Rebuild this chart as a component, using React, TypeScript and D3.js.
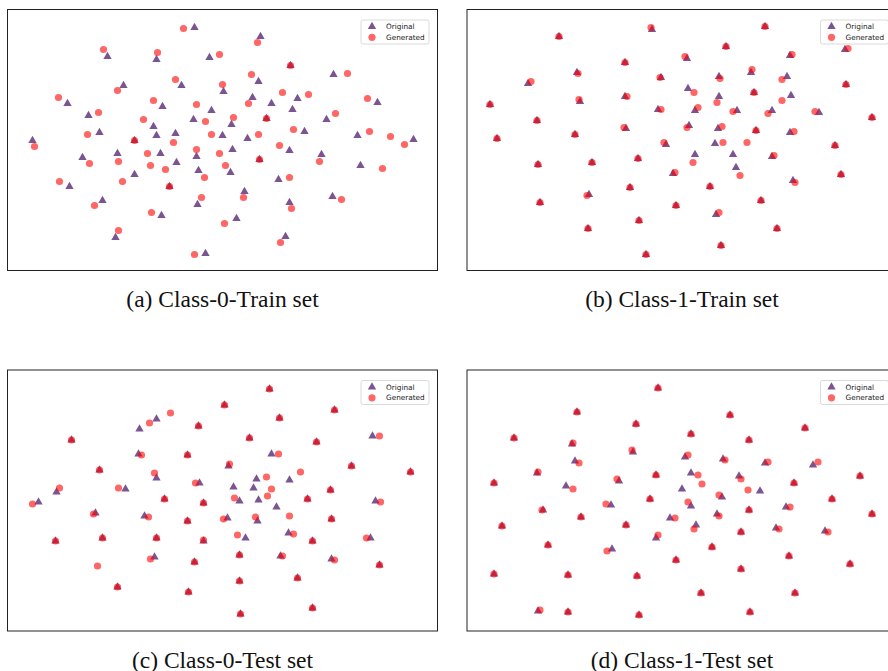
import React, { useRef, useEffect } from 'react';
import * as d3 from 'd3';

// t-SNE embeddings (arbitrary units), [dim1, dim2]
const class0TrainOriginal = [
  [18.7, 24.3], [10.0, 21.4], [14.9, 21.1], [20.2, 21.3], [11.6, 18.5], [17.4, 18.5], [21.6, 17.9],
  [6.0, 16.7], [15.5, 16.4], [8.1, 15.5], [20.4, 16.0], [18.6, 15.1], [14.6, 14.4], [9.2, 13.8],
  [14.9, 13.5], [16.8, 13.7], [21.5, 13.5], [2.5, 13.0], [12.7, 13.0], [11.0, 11.7], [15.3, 11.7],
  [18.9, 11.4], [7.5, 11.3], [16.9, 10.8], [19.1, 10.0], [12.7, 9.6], [6.2, 8.4], [16.2, 8.4],
  [9.5, 7.0], [19.0, 6.6], [15.4, 5.5], [10.8, 3.3], [19.8, 1.7],
  [25.3, 23.4], [28.3, 20.5], [32.6, 19.6], [25.1, 18.9], [24.5, 17.3], [29.0, 17.2], [26.4, 16.7],
  [37.0, 16.8], [28.5, 16.1], [31.9, 15.1], [22.4, 14.6], [25.9, 15.2], [24.0, 13.2], [29.7, 13.9],
  [35.0, 13.5], [40.6, 13.1], [22.5, 12.1], [28.2, 12.0], [31.4, 11.6], [25.2, 11.1], [35.3, 10.5],
  [22.3, 9.8], [27.1, 9.1], [23.7, 7.9], [32.5, 7.4], [28.2, 6.8], [22.9, 5.2], [27.8, 3.4],
];
const class0TrainGenerated = [
  [17.6, 24.2], [9.6, 22.1], [15.0, 21.8], [21.2, 21.6], [16.8, 19.1], [11.0, 18.0], [21.5, 18.6],
  [5.1, 17.3], [14.6, 17.0], [18.9, 16.6], [9.1, 15.8], [13.6, 15.1], [19.8, 14.9], [8.0, 13.6],
  [20.4, 13.6], [12.7, 13.0], [16.6, 12.8], [2.7, 12.4], [14.0, 11.7], [18.9, 12.1], [21.2, 11.7],
  [11.1, 10.9], [8.2, 10.7], [14.3, 10.5], [15.8, 10.1], [21.8, 10.5], [19.7, 9.3], [5.2, 8.9],
  [11.5, 8.9], [16.2, 8.4], [19.4, 7.3], [8.7, 6.5], [14.4, 5.8], [21.7, 4.7], [11.1, 4.0], [18.7, 1.6],
  [25.0, 22.8], [28.3, 20.5], [24.4, 19.6], [34.0, 19.7], [27.5, 17.8], [30.1, 17.6], [24.1, 16.7],
  [36.0, 17.2], [32.8, 15.7], [22.6, 15.3], [25.9, 15.2], [25.1, 13.6], [28.6, 14.1], [36.2, 13.9],
  [38.3, 13.4], [39.7, 12.6], [27.2, 12.5], [25.2, 11.1], [31.2, 10.9], [37.5, 10.2], [28.2, 9.3],
  [23.6, 7.3], [33.4, 7.1], [28.4, 6.2], [27.3, 2.8],
];

const class1TrainOriginal = [
  [18.5, 24.1], [9.2, 23.4], [15.8, 20.8], [11.0, 19.8], [6.1, 18.7], [19.4, 19.3], [15.8, 17.4],
  [11.3, 16.9], [2.3, 16.6], [19.1, 16.1], [7.0, 15.0], [15.9, 14.2], [10.8, 13.6], [3.0, 13.2],
  [19.9, 12.6], [17.1, 11.2], [7.1, 10.6], [12.5, 10.8], [20.6, 9.7], [16.3, 8.3], [7.3, 6.8],
  [12.2, 7.6], [20.9, 6.5], [17.2, 5.0], [12.1, 4.2], [17.9, 1.6],
  [29.8, 24.4], [25.9, 22.4], [22.0, 21.2], [32.3, 21.5], [37.8, 22.1], [25.2, 19.4], [28.4, 19.8],
  [32.0, 19.4], [22.1, 18.2], [28.7, 17.8], [37.9, 18.6], [25.2, 17.4], [32.4, 17.5], [22.8, 16.0],
  [27.0, 16.0], [30.5, 16.0], [35.2, 15.8], [40.5, 15.3], [22.2, 14.5], [25.1, 14.2], [28.9, 14.0],
  [32.3, 13.8], [24.8, 12.7], [36.8, 12.5], [22.8, 11.6], [26.6, 11.6], [30.5, 11.4], [26.9, 10.3],
  [37.4, 9.6], [32.6, 9.0], [24.3, 8.4], [29.4, 7.0], [24.9, 5.6], [31.0, 4.2], [25.4, 2.5],
];
const class1TrainGenerated = [
  [18.4, 24.3], [9.2, 23.4], [15.8, 20.8], [11.1, 19.7], [6.4, 18.9], [19.3, 19.3], [16.0, 17.4],
  [11.2, 17.1], [2.3, 16.6], [19.4, 16.1], [7.0, 15.0], [15.7, 14.3], [10.8, 13.6], [3.0, 13.2],
  [19.7, 12.8], [17.1, 11.2], [7.1, 10.6], [12.5, 10.8], [20.8, 9.8], [16.3, 8.3], [7.3, 6.8],
  [12.0, 7.5], [20.9, 6.5], [17.2, 5.0], [12.1, 4.2], [17.9, 1.6],
  [29.8, 24.4], [25.9, 22.4], [21.8, 21.4], [32.5, 21.6], [38.1, 22.2], [25.3, 19.2], [28.5, 20.1],
  [31.5, 19.1], [22.7, 17.8], [28.7, 17.8], [37.9, 18.6], [25.0, 16.8], [31.5, 17.0], [23.1, 16.3],
  [26.6, 15.9], [30.1, 15.7], [34.8, 15.9], [40.5, 15.3], [22.0, 14.3], [25.5, 14.4], [28.9, 14.0],
  [32.7, 13.9], [25.6, 12.8], [28.0, 12.8], [36.8, 12.5], [22.6, 10.8], [30.7, 11.5], [27.3, 9.5],
  [37.4, 9.6], [32.8, 8.8], [24.3, 8.4], [29.4, 7.0], [25.2, 5.8], [31.0, 4.2], [25.4, 2.5],
];

const class0TestOriginal = [
  [21.7, 22.6], [14.9, 21.2], [13.2, 20.2], [19.1, 20.5], [6.4, 19.1], [13.1, 17.7], [18.0, 17.6],
  [22.1, 16.5], [9.2, 16.1], [14.9, 15.3], [4.9, 13.9], [11.8, 14.2], [19.2, 14.8], [15.7, 13.2],
  [3.1, 12.9], [19.6, 12.8], [8.8, 11.8], [13.7, 11.5], [18.0, 11.0], [22.0, 11.3], [4.8, 9.0],
  [9.5, 9.3], [14.9, 9.3], [19.6, 9.0], [14.7, 7.4], [18.7, 6.9], [11.0, 4.4], [18.1, 3.9],
  [26.2, 24.2], [32.7, 22.1], [27.2, 21.3], [24.2, 19.3], [30.9, 18.9], [36.5, 19.5], [26.4, 17.7],
  [34.4, 16.5], [40.3, 15.9], [24.9, 15.2], [28.2, 15.1], [22.6, 14.4], [24.6, 14.3], [32.3, 14.1],
  [23.2, 13.0], [25.1, 13.1], [26.9, 12.4], [30.0, 13.2], [36.8, 13.0], [25.0, 11.0], [32.4, 11.2],
  [23.8, 9.3], [28.1, 9.8], [30.5, 9.0], [36.3, 9.3], [23.2, 7.6], [27.3, 7.5], [32.4, 7.2],
  [37.2, 6.6], [23.2, 5.0], [29.0, 5.3], [30.5, 2.3], [23.3, 1.7],
];
const class0TestGenerated = [
  [21.7, 22.6], [16.3, 21.8], [14.2, 20.8], [19.1, 20.5], [6.4, 19.1], [13.4, 17.6], [18.0, 17.6],
  [22.2, 16.7], [9.2, 16.1], [14.7, 15.8], [5.2, 14.3], [11.1, 14.3], [18.8, 14.8], [15.7, 13.2],
  [2.5, 12.7], [19.6, 12.8], [8.6, 11.7], [14.1, 11.4], [18.0, 11.0], [21.6, 11.2], [4.8, 9.0],
  [9.5, 9.3], [14.9, 9.3], [19.6, 9.1], [14.3, 7.2], [18.7, 6.9], [9.0, 6.5], [11.0, 4.4], [18.1, 3.9],
  [26.2, 24.2], [32.7, 22.1], [27.2, 21.3], [24.2, 19.3], [30.9, 18.9], [37.2, 19.5], [27.1, 17.7],
  [34.4, 16.5], [40.3, 15.9], [29.3, 15.9], [25.9, 15.4], [26.4, 14.2], [32.3, 14.1], [22.7, 13.3],
  [26.0, 13.5], [30.0, 13.2], [37.3, 12.9], [24.8, 11.4], [28.2, 11.5], [32.4, 11.2], [23.0, 9.6],
  [28.6, 9.7], [30.5, 9.0], [35.9, 9.3], [23.2, 7.6], [27.5, 7.5], [32.7, 7.1], [37.2, 6.6],
  [23.2, 5.0], [29.0, 5.3], [30.5, 2.3], [23.3, 1.7],
];

const class1TestOriginal = [
  [19.1, 24.3], [11.0, 21.9], [16.9, 20.7], [4.7, 19.3], [10.5, 18.7], [16.6, 17.9], [10.8, 17.0],
  [7.0, 15.8], [2.7, 14.8], [18.9, 15.6], [15.2, 15.0], [9.9, 14.5], [18.3, 13.2], [14.4, 12.6],
  [7.6, 12.1], [11.4, 11.4], [20.3, 11.3], [3.5, 10.5], [15.9, 10.6], [8.1, 8.6], [18.9, 9.3],
  [14.5, 8.2], [20.9, 7.1], [2.7, 5.7], [10.1, 5.6], [17.0, 5.5], [7.1, 2.0], [10.1, 1.9], [17.2, 1.6],
  [26.3, 21.6], [33.8, 20.3], [22.4, 19.7], [28.2, 19.1], [21.8, 17.4], [25.6, 17.2], [29.8, 16.8],
  [34.6, 16.6], [22.4, 15.8], [39.3, 15.5], [27.2, 15.5], [32.7, 14.8], [21.5, 14.2], [29.3, 14.0],
  [25.5, 13.4], [36.5, 13.2], [22.4, 12.5], [31.9, 12.4], [28.2, 12.1], [25.0, 11.7], [40.5, 11.7],
  [22.9, 10.6], [30.9, 10.3], [35.8, 10.0], [27.4, 9.9], [24.5, 8.4], [32.2, 7.5], [38.3, 6.7],
  [27.4, 6.2], [23.4, 3.8], [32.8, 3.8], [28.3, 1.9],
];
const class1TestGenerated = [
  [19.1, 24.3], [11.0, 21.9], [16.9, 20.7], [4.7, 19.3], [10.6, 18.8], [16.5, 18.1], [11.2, 16.8],
  [7.1, 15.9], [2.7, 14.8], [18.9, 15.6], [15.0, 15.2], [10.6, 14.2], [18.3, 13.2], [13.9, 12.7],
  [7.5, 12.1], [11.4, 11.4], [20.8, 11.3], [3.5, 10.5], [15.9, 10.6], [8.1, 8.6], [19.1, 9.6],
  [14.0, 8.0], [20.9, 7.1], [2.7, 5.7], [10.1, 5.6], [17.0, 5.5], [7.3, 2.1], [10.1, 1.9], [17.2, 1.6],
  [26.3, 21.6], [33.8, 20.3], [22.4, 19.7], [28.2, 19.1], [22.1, 17.6], [25.8, 17.1], [30.1, 16.9],
  [35.1, 16.9], [23.1, 15.6], [39.3, 15.5], [27.4, 15.2], [23.5, 14.7], [32.7, 14.8], [28.1, 14.1],
  [25.2, 13.6], [36.5, 13.2], [22.1, 12.9], [32.3, 12.4], [28.2, 12.1], [25.2, 11.5], [40.5, 11.7],
  [22.7, 10.2], [31.2, 10.2], [36.1, 9.9], [27.4, 9.9], [24.5, 8.4], [32.2, 7.5], [38.3, 6.7],
  [27.4, 6.2], [23.4, 3.8], [32.8, 3.8], [28.3, 1.9],
];

const captions = ['(a) Class-0-Train set', '(b) Class-1-Train set', '(c) Class-0-Test set', '(d) Class-1-Test set'];
const seriesNames = ['Original', 'Generated'];

const panels = [
  { original: class0TrainOriginal, generated: class0TrainGenerated, caption: captions[0], x: 7.5, y: 9.5 },
  { original: class1TrainOriginal, generated: class1TrainGenerated, caption: captions[1], x: 467, y: 9.5 },
  { original: class0TestOriginal, generated: class0TestGenerated, caption: captions[2], x: 7.5, y: 370 },
  { original: class1TestOriginal, generated: class1TestGenerated, caption: captions[3], x: 467, y: 370 },
];

const TRI_COLOR = '#7b5592';
const GEN_COLOR = '#ff0000';
const GEN_ALPHA = 0.6;

function App() {
  const svgRef = useRef(null);
  const width = 888;
  const height = 671;

  useEffect(() => {
    const svg = d3.select(svgRef.current);
    svg.selectAll('*').remove();

    const panelW = 430;
    const panelH = 261;

    const xScale = d3.scaleLinear().domain([0, 43]).range([0, panelW]);
    const yScale = d3.scaleLinear().domain([0, 26.1]).range([panelH, 0]);

    const triangle = d3.symbol().type(d3.symbolTriangle).size(30);

    panels.forEach(p => {
      const g = svg.append('g').attr('transform', `translate(${p.x},${p.y})`);

      g.append('rect')
        .attr('width', panelW)
        .attr('height', panelH)
        .attr('fill', 'white');

      // original samples (triangles)
      g.selectAll('.orig')
        .data(p.original)
        .enter()
        .append('path')
        .attr('d', triangle)
        .attr('transform', d => `translate(${xScale(d[0])},${yScale(d[1])})`)
        .attr('fill', TRI_COLOR);

      // generated samples (circles, drawn on top)
      g.selectAll('.gen')
        .data(p.generated)
        .enter()
        .append('circle')
        .attr('cx', d => xScale(d[0]))
        .attr('cy', d => yScale(d[1]))
        .attr('r', 3.6)
        .attr('fill', GEN_COLOR)
        .attr('fill-opacity', GEN_ALPHA);

      // frame
      g.append('rect')
        .attr('width', panelW)
        .attr('height', panelH)
        .attr('fill', 'none')
        .attr('stroke', '#222')
        .attr('stroke-width', 1);

      // legend
      const legend = g.append('g').attr('transform', `translate(${panelW - 76.5},10.5)`);
      legend.append('rect')
        .attr('width', 68)
        .attr('height', 24)
        .attr('rx', 2)
        .attr('fill', 'white')
        .attr('fill-opacity', 0.8)
        .attr('stroke', '#d0d0d0')
        .attr('stroke-width', 0.8);
      legend.append('path')
        .attr('d', triangle)
        .attr('transform', 'translate(11,6.6)')
        .attr('fill', TRI_COLOR);
      legend.append('circle')
        .attr('cx', 11)
        .attr('cy', 17.3)
        .attr('r', 3.6)
        .attr('fill', GEN_COLOR)
        .attr('fill-opacity', GEN_ALPHA);
      seriesNames.forEach((name, i) => {
        legend.append('text')
          .attr('x', 25)
          .attr('y', 6.6 + i * 10.8)
          .attr('dy', '0.35em')
          .style('font-family', 'DejaVu Sans, sans-serif')
          .style('font-size', '7.3px')
          .style('fill', '#222')
          .text(name);
      });

      // caption
      g.append('text')
        .attr('x', panelW / 2)
        .attr('y', panelH + 36.5)
        .attr('text-anchor', 'middle')
        .style('font-family', 'Liberation Serif, Times New Roman, serif')
        .style('font-size', '23.5px')
        .style('fill', '#111')
        .text(p.caption);
    });
  }, []);

  return (
    <svg
      ref={svgRef}
      width={width}
      height={height}
      style={{ position: 'absolute', left: 0, top: 0, background: 'white', overflow: 'hidden' }}
    ></svg>
  );
}

export default App;
